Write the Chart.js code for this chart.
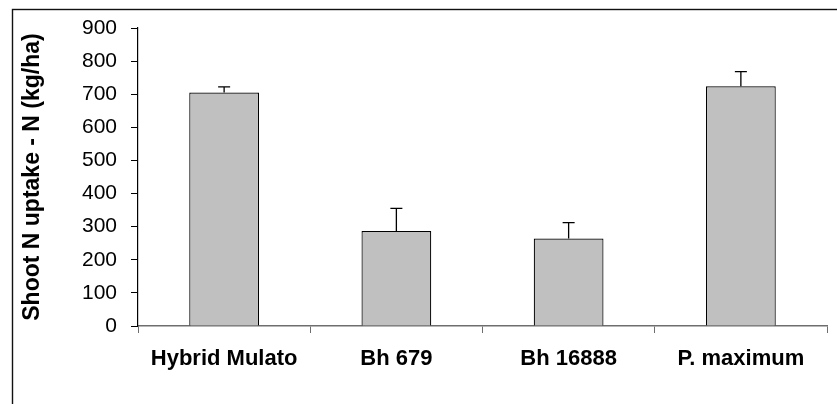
<!DOCTYPE html>
<html>
<head>
<meta charset="utf-8">
<script src="https://cdn.jsdelivr.net/npm/chart.js@4/dist/chart.umd.min.js"></script>
<style>
  html, body { margin: 0; padding: 0; background: #ffffff; }
  canvas { display: block; }
</style>
</head>
<body>
<canvas id="chart" width="837" height="404"></canvas>
<script>
// Shoot N uptake per forage grass, with standard error (upper whisker only)
const categories = ['Hybrid Mulato', 'Bh 679', 'Bh 16888', 'P. maximum'];
const uptake = [705, 287, 264, 724];
const uptakeError = [17, 68, 48, 44];
const yTicks = [0, 100, 200, 300, 400, 500, 600, 700, 800, 900];

const FONT = '"Liberation Sans", Arial, Helvetica, sans-serif';

// Upward error whiskers with a short cap, placed through the chart's own scales
const errorBars = {
  id: 'errorBars',
  afterDatasetsDraw(chart) {
    const ctx = chart.ctx;
    const meta = chart.getDatasetMeta(0);
    const y = chart.scales.y;
    ctx.save();
    ctx.strokeStyle = '#000000';
    ctx.lineWidth = 1.3;
    meta.data.forEach((bar, i) => {
      const top = y.getPixelForValue(uptake[i] + uptakeError[i]);
      const base = y.getPixelForValue(uptake[i]);
      ctx.beginPath();
      ctx.moveTo(bar.x, base);
      ctx.lineTo(bar.x, top);
      ctx.moveTo(bar.x - 6, top);
      ctx.lineTo(bar.x + 6, top);
      ctx.stroke();
    });
    ctx.restore();
  }
};

// Outer frame around the figure
const frame = {
  id: 'frame',
  beforeDraw(chart) {
    const ctx = chart.ctx;
    ctx.save();
    ctx.fillStyle = '#ffffff';
    ctx.fillRect(0, 0, chart.width, chart.height);
    ctx.strokeStyle = '#111111';
    ctx.lineWidth = 1.4;
    ctx.strokeRect(12.5, 9.5, chart.width + 10, chart.height + 10);
    ctx.restore();
  }
};

new Chart(document.getElementById('chart'), {
  type: 'bar',
  data: {
    labels: categories,
    datasets: [{
      data: uptake,
      backgroundColor: '#c0c0c0',
      borderColor: '#000000',
      borderWidth: 1.2,
      categoryPercentage: 1,
      barPercentage: 0.405
    }]
  },
  options: {
    responsive: false,
    animation: false,
    devicePixelRatio: 1,
    layout: { padding: { left: 0, right: 10, top: 28, bottom: 0 } },
    plugins: {
      legend: { display: false },
      tooltip: { enabled: false }
    },
    scales: {
      x: {
        afterFit(scale) { scale.height = 78; },
        grid: {
          offset: true,
          drawOnChartArea: false,
          drawTicks: true,
          tickLength: 7,
          color: '#6e6e6e',
          lineWidth: 1
        },
        border: { display: true, color: '#6e6e6e', width: 1.5 },
        ticks: {
          color: '#000000',
          padding: 13,
          font: { family: FONT, size: 22, weight: 'bold' }
        }
      },
      y: {
        min: 0,
        max: 900,
        afterFit(scale) { scale.width = 138; },
        afterBuildTicks(scale) { scale.ticks = yTicks.map(v => ({ value: v })); },
        grid: {
          drawOnChartArea: false,
          drawTicks: true,
          tickLength: 7,
          color: '#000000',
          lineWidth: 1
        },
        border: { display: true, color: '#000000', width: 1.2 },
        ticks: {
          color: '#000000',
          padding: 14,
          font: { family: FONT, size: 21 }
        },
        title: {
          display: true,
          text: 'Shoot N uptake - N (kg/ha)',
          color: '#000000',
          padding: { top: 19, bottom: 0 },
          font: { family: FONT, size: 23, weight: 'bold' }
        }
      }
    }
  },
  plugins: [frame, errorBars]
});
</script>
</body>
</html>
